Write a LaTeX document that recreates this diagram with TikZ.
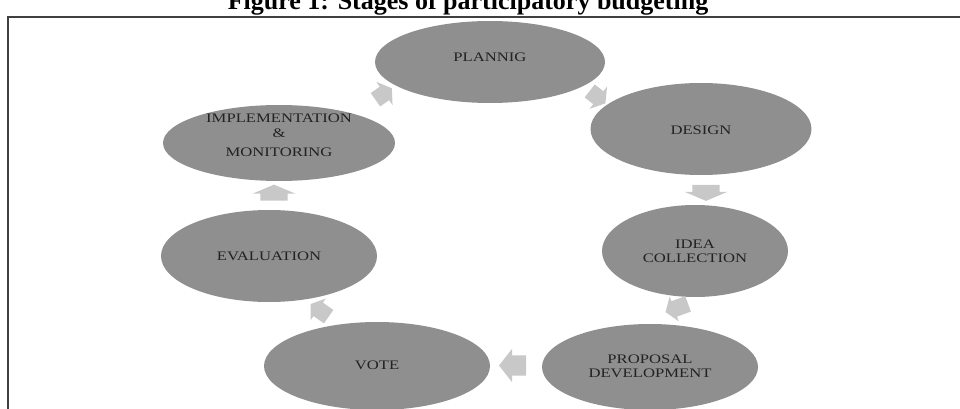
\documentclass[tikz,border=0pt]{standalone}
\usepackage{fontspec}
\setmainfont{Liberation Serif}
\newfontfamily\lblfont[FakeStretch=1.28]{Liberation Serif}
\usetikzlibrary{shapes.geometric,shapes.arrows,calc}
\definecolor{ellgray}{HTML}{8F8F8F}
\definecolor{arrgray}{HTML}{C8C8C8}
\definecolor{txtgray}{HTML}{222222}
\definecolor{framegray}{HTML}{404040}
\begin{document}
\begin{tikzpicture}[x=1pt,y=-1pt,
  stage/.style={ellipse, fill=ellgray, draw=none, inner sep=0pt},
  lbl/.style={font=\lblfont\fontsize{13}{14}\selectfont, text=txtgray, align=center, inner sep=0pt},
  blk/.style={single arrow, fill=arrgray, draw=none, inner xsep=0pt, single arrow head indent=0pt},
]
\useasboundingbox (0,0) rectangle (960,409);
\clip (0,0) rectangle (960,409);
\node[font=\bfseries\fontsize{26}{30}\selectfont, anchor=base, inner sep=0pt] (title) at (468,10) {Figure 1: Stages of participatory budgeting};
\coordinate (ftl) at (8,17);
\coordinate (ftr) at (962,17);
\coordinate (fbl) at (8,411);
\draw[framegray, line width=2pt] (ftr) -- (ftl) -- (fbl);

\node[stage, minimum width=230pt, minimum height=82pt] (plan) at (490,62) {};
\node[stage, minimum width=221pt, minimum height=92pt] (design) at (701,129) {};
\node[stage, minimum width=186pt, minimum height=92pt] (idea) at (695,251) {};
\node[stage, minimum width=216pt, minimum height=86pt] (prop) at (650,367) {};
\node[stage, minimum width=226pt, minimum height=88pt] (vote) at (377,366) {};
\node[stage, minimum width=216pt, minimum height=92pt] (eval) at (269,256) {};
\node[stage, minimum width=232pt, minimum height=76pt] (impl) at (279,143) {};

\node[lbl] (tplan) at (490,57) {PLANNIG};
\node[lbl] (tdesign) at (701,130) {DESIGN};
\node[lbl] (tidea) at (695,251) {IDEA\\COLLECTION};
\node[lbl] (tprop) at (650,366) {PROPOSAL\\DEVELOPMENT};
\node[lbl] (tvote) at (377,365) {VOTE};
\node[lbl] (teval) at (269,256) {EVALUATION};
\node[lbl, font=\lblfont\fontsize{13}{15}\selectfont] (timpl) at (279,135) {IMPLEMENTATION\\\&\\[4pt]MONITORING};

\node[blk, rotate=-38, minimum height=20pt, inner ysep=8pt, single arrow head extend=6pt, single arrow tip angle=115] (a1) at ($(plan)!0.5!(design)$) {};
\node[blk, rotate=-90, minimum height=16pt, inner ysep=13.5pt, single arrow head extend=7.5pt, single arrow tip angle=134] (a2) at ($(design)!0.5!(idea)+(8,0)$) {};
\node[blk, rotate=-160, minimum height=24pt, inner ysep=8pt, single arrow head extend=5pt, single arrow tip angle=110] (a3) at ($(idea)!0.5!(prop)+(7,-2)$) {};
\node[blk, rotate=180, minimum height=27pt, inner ysep=10pt, single arrow head extend=6.5pt, single arrow tip angle=104] (a4) at ($(prop)!0.5!(vote)+(3,-1)$) {};
\node[blk, rotate=145, minimum height=22pt, inner ysep=8pt, single arrow head extend=5pt, single arrow tip angle=110] (a5) at ($(vote)!0.5!(eval)+(-1,1)$) {};
\node[blk, rotate=90, minimum height=16pt, inner ysep=13.5pt, single arrow head extend=7.5pt, single arrow tip angle=134] (a6) at ($(eval)!0.5!(impl)+(0,-4)$) {};
\node[blk, rotate=35, minimum height=20pt, inner ysep=8pt, single arrow head extend=6pt, single arrow tip angle=115] (a7) at ($(impl)!0.5!(plan)+(-3,-7)$) {};
\end{tikzpicture}
\end{document}
